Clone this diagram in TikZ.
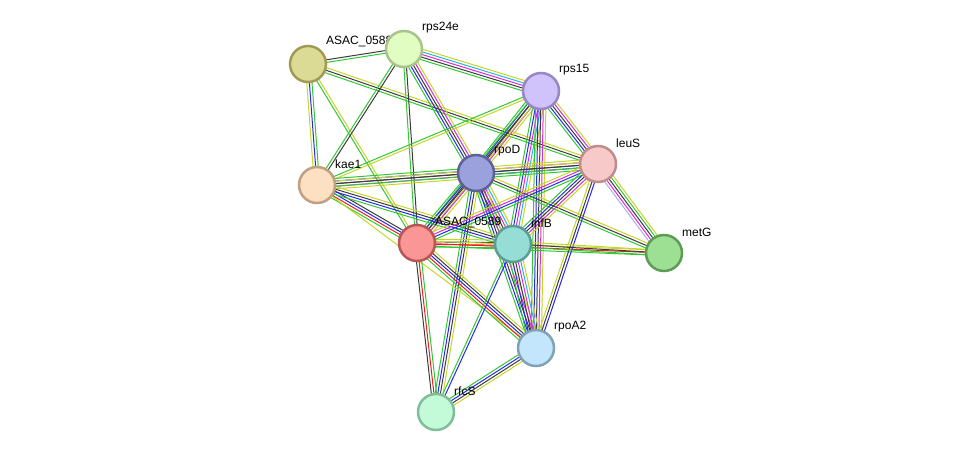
\documentclass[tikz,border=0pt]{standalone}
\usepackage{fontspec}
\setmainfont{Liberation Sans}
\usetikzlibrary{calc,backgrounds}

\definecolor{nb}{RGB}{50,200,50}
\definecolor{fu}{RGB}{235,30,30}
\definecolor{co}{RGB}{40,40,240}
\definecolor{cx}{RGB}{60,60,60}
\definecolor{ex}{RGB}{220,40,220}
\definecolor{db}{RGB}{40,180,220}
\definecolor{tm}{RGB}{196,214,40}
\definecolor{hm}{RGB}{170,170,240}

\pgfdeclarelayer{front}
\pgfsetlayers{background,main,front}

\tikzset{
  protein/.style={circle, draw, line width=2.5pt, minimum size=36pt, inner sep=0pt},
  plabel/.style={anchor=west, inner sep=0pt, font=\fontsize{12}{14}\selectfont},
  kanal/.style={line width=1pt}
}

% KANTE: von, nach, farben (je eine linie pro farbe)
\newcommand\kante[3]{%
  \foreach \farbe [count=\nr] in {#3} {\xdef\anzahl{\nr}}%
  \foreach \farbe [count=\nr] in {#3} {%
    \pgfmathsetmacro\versatz{(\nr-(\anzahl+1)/2)*2.6}%
    \draw[kanal, \farbe] ($(#1.center)!\versatz pt!90:(#2.center)$) -- ($(#2.center)!\versatz pt!-90:(#1.center)$);
  }%
}

\begin{document}
\begin{tikzpicture}[x=1pt,y=-1pt]
\useasboundingbox (0,0) rectangle (976,458);

%PROTEINE
\begin{pgfonlayer}{front}
\node[protein, fill={rgb,255:red,220;green,219;blue,150}, draw={rgb,255:red,160;green,154;blue,85}] (asac0588) at (308,64) {};
\node[protein, fill={rgb,255:red,225;green,253;blue,194}, draw={rgb,255:red,168;green,196;blue,138}] (rps24e) at (404,49) {};
\node[protein, fill={rgb,255:red,208;green,194;blue,251}, draw={rgb,255:red,154;green,134;blue,198}] (rps15) at (541,91) {};
\node[protein, fill={rgb,255:red,248;green,201;blue,201}, draw={rgb,255:red,192;green,140;blue,140}] (leuS) at (598,164) {};
\node[protein, fill={rgb,255:red,154;green,161;blue,220}, draw={rgb,255:red,92;green,98;blue,152}] (rpoD) at (476,173) {};
\node[protein, fill={rgb,255:red,253;green,224;blue,193}, draw={rgb,255:red,192;green,160;blue,128}] (kae1) at (317,185) {};
\node[protein, fill={rgb,255:red,250;green,150;blue,150}, draw={rgb,255:red,184;green,85;blue,85}] (asac0589) at (417,243) {};
\node[protein, fill={rgb,255:red,150;green,221;blue,213}, draw={rgb,255:red,90;green,157;blue,149}] (infB) at (513,244) {};
\node[protein, fill={rgb,255:red,157;green,224;blue,148}, draw={rgb,255:red,93;green,156;blue,85}] (metG) at (664,253) {};
\node[protein, fill={rgb,255:red,195;green,230;blue,252}, draw={rgb,255:red,127;green,162;blue,181}] (rpoA2) at (536,348) {};
\node[protein, fill={rgb,255:red,195;green,251;blue,216}, draw={rgb,255:red,130;green,189;blue,154}] (rfcS) at (436,412) {};
\end{pgfonlayer}

%BESCHRIFTUNGEN
\node[plabel] (l-asac0588) at ([shift={(18,-22)}]asac0588.center) {ASAC\_0588};
\node[plabel] (l-rps24e) at ([shift={(18,-21)}]rps24e.center) {rps24e};
\node[plabel] (l-rps15) at ([shift={(18,-21)}]rps15.center) {rps15};
\node[plabel] (l-leuS) at ([shift={(18,-21)}]leuS.center) {leuS};
\node[plabel] (l-rpoD) at ([shift={(18,-22)}]rpoD.center) {rpoD};
\node[plabel] (l-kae1) at ([shift={(18,-21)}]kae1.center) {kae1};
\node[plabel] (l-asac0589) at ([shift={(18,-21)}]asac0589.center) {ASAC\_0589};
\node[plabel] (l-infB) at ([shift={(18,-21)}]infB.center) {infB};
\node[plabel] (l-metG) at ([shift={(18,-21)}]metG.center) {metG};
\node[plabel] (l-rpoA2) at ([shift={(18,-21)}]rpoA2.center) {rpoA2};
\node[plabel] (l-rfcS) at ([shift={(18,-21)}]rfcS.center) {rfcS};

%KANTEN
\begin{pgfonlayer}{background}
\kante{asac0588}{rps24e}{nb,cx}
\kante{asac0588}{kae1}{tm,co,nb}
\kante{asac0588}{leuS}{nb,cx,tm}
\kante{asac0588}{asac0589}{nb,tm}
\kante{rps24e}{rps15}{nb,cx,ex,db,tm}
\kante{rps24e}{rpoD}{nb,co,cx,ex,tm}
\kante{rps24e}{kae1}{nb,cx}
\kante{rps24e}{asac0589}{nb,cx}
\kante{rps15}{kae1}{nb,tm}
\kante{rps15}{rpoD}{nb,co,cx,ex,tm}
\kante{rps15}{leuS}{nb,co,cx,ex,tm}
\kante{rps15}{asac0589}{nb,cx,tm}
\kante{rps15}{infB}{nb,co,ex,db,tm}
\kante{rps15}{rpoA2}{nb,co,cx,ex,tm}
\kante{rpoD}{kae1}{nb,co,cx,ex,tm}
\kante{rpoD}{leuS}{nb,co,cx,ex,tm}
\kante{rpoD}{asac0589}{nb,co,cx,ex,tm}
\kante{rpoD}{infB}{nb,co,cx,ex,db,tm}
\kante{rpoD}{rpoA2}{nb,co,cx,ex,tm}
\kante{rpoD}{rfcS}{nb,co,cx,tm}
\kante{rpoD}{metG}{nb,cx,tm}
\kante{kae1}{asac0589}{nb,fu,co,cx}
\kante{kae1}{infB}{nb,co,cx,tm}
\kante{kae1}{rpoA2}{tm}
\kante{kae1}{leuS}{nb,cx,tm}
\kante{asac0589}{infB}{nb,fu,cx,tm}
\kante{asac0589}{metG}{nb,fu,tm}
\kante{asac0589}{rpoA2}{nb,fu,co,cx,tm}
\kante{asac0589}{rfcS}{cx,fu,nb}
\kante{asac0589}{leuS}{nb,co,ex,tm}
\kante{leuS}{infB}{nb,co,cx,ex,tm}
\kante{leuS}{rpoA2}{tm,cx,co}
\kante{leuS}{metG}{hm,ex,cx,nb,tm}
\kante{infB}{rpoA2}{nb,co,cx,ex,db,tm}
\kante{infB}{rfcS}{nb,co}
\kante{infB}{metG}{nb,cx,tm}
\kante{rpoA2}{rfcS}{nb,co,cx,tm}
\end{pgfonlayer}

\end{tikzpicture}
\end{document}
